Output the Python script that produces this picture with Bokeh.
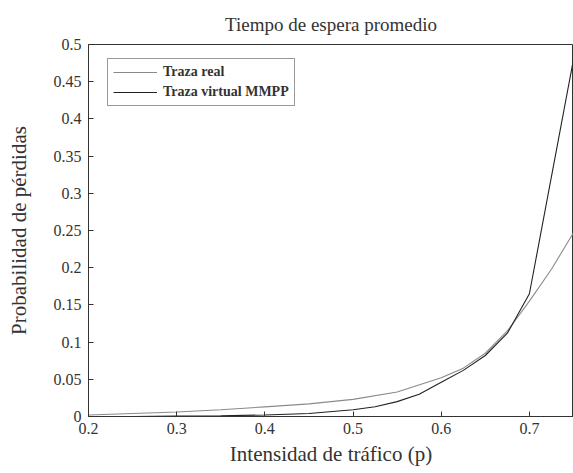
from bokeh.plotting import figure
from bokeh.models import Range1d, Legend, LegendItem, FixedTicker, Title
from bokeh.embed import file_html
from bokeh.resources import INLINE

# Data
rho_real = [0.2, 0.25, 0.3, 0.35, 0.4, 0.45, 0.5, 0.55, 0.6, 0.625, 0.65, 0.675, 0.7, 0.725, 0.75]
p_real = [0.002, 0.004, 0.006, 0.009, 0.013, 0.017, 0.023, 0.033, 0.052, 0.065, 0.085, 0.115, 0.155, 0.198, 0.247]

rho_mmpp = [0.2, 0.25, 0.3, 0.35, 0.4, 0.45, 0.5, 0.525, 0.55, 0.575, 0.6, 0.625, 0.65, 0.675, 0.7, 0.75]
p_mmpp = [0.0, 0.0, 0.0005, 0.001, 0.002, 0.004, 0.009, 0.013, 0.02, 0.03, 0.046, 0.062, 0.082, 0.112, 0.165, 0.48]

x_ticks = [0.2, 0.3, 0.4, 0.5, 0.6, 0.7]
y_ticks = [0, 0.05, 0.1, 0.15, 0.2, 0.25, 0.3, 0.35, 0.4, 0.45, 0.5]

FONT = "Liberation Serif"
TXT = "#333333"

p = figure(frame_width=485, frame_height=372, output_backend="svg", toolbar_location=None,
           x_range=Range1d(0.2, 0.75), y_range=Range1d(0, 0.5),
           min_border_left=88, min_border_right=0, min_border_top=44, min_border_bottom=52,
           background_fill_color="white", border_fill_color="white")
p.grid.visible = False
p.outline_line_color = "#333333"

r_real = p.line(rho_real, p_real, line_color="#8a8a8a", line_width=1.1)
r_mmpp = p.line(rho_mmpp, p_mmpp, line_color="#222222", line_width=1.1)

for ax in (p.xaxis[0], p.yaxis[0]):
    ax.major_tick_in = 5
    ax.major_tick_out = 0
    ax.minor_tick_line_color = None
    ax.axis_line_color = "#333333"
    ax.major_tick_line_color = "#333333"
    ax.major_label_text_font = FONT
    ax.major_label_text_font_size = "16px"
    ax.major_label_text_color = TXT
    ax.axis_label_text_font = FONT
    ax.axis_label_text_font_size = "21px"
    ax.axis_label_text_font_style = "normal"
    ax.axis_label_text_color = TXT

p.xaxis.ticker = FixedTicker(ticks=x_ticks)
p.yaxis.ticker = FixedTicker(ticks=y_ticks)
p.xaxis.axis_label = "Intensidad de tráfico (p)"
p.yaxis.axis_label = "Probabilidad de pérdidas"
p.xaxis.major_label_standoff = 6
p.yaxis.major_label_standoff = 7
p.xaxis.axis_label_standoff = 5
p.yaxis.axis_label_standoff = 20

p.add_layout(Title(text="Tiempo de espera promedio", align="center", text_font=FONT,
                   text_font_size="19px", text_font_style="normal", text_color=TXT,
                   standoff=20), "above")

legend = Legend(items=[LegendItem(label="Traza real", renderers=[r_real]),
                       LegendItem(label="Traza virtual MMPP", renderers=[r_mmpp])],
                location=(19, 310), label_text_font=FONT, label_text_font_size="14px",
                label_text_font_style="bold", label_text_color=TXT,
                border_line_color="#333333", glyph_width=44, glyph_height=16,
                label_height=16, spacing=4, padding=5, margin=0, label_standoff=6,
                background_fill_alpha=1.0)
p.add_layout(legend, "center")

open("out.html", "w").write(file_html(p, INLINE))
